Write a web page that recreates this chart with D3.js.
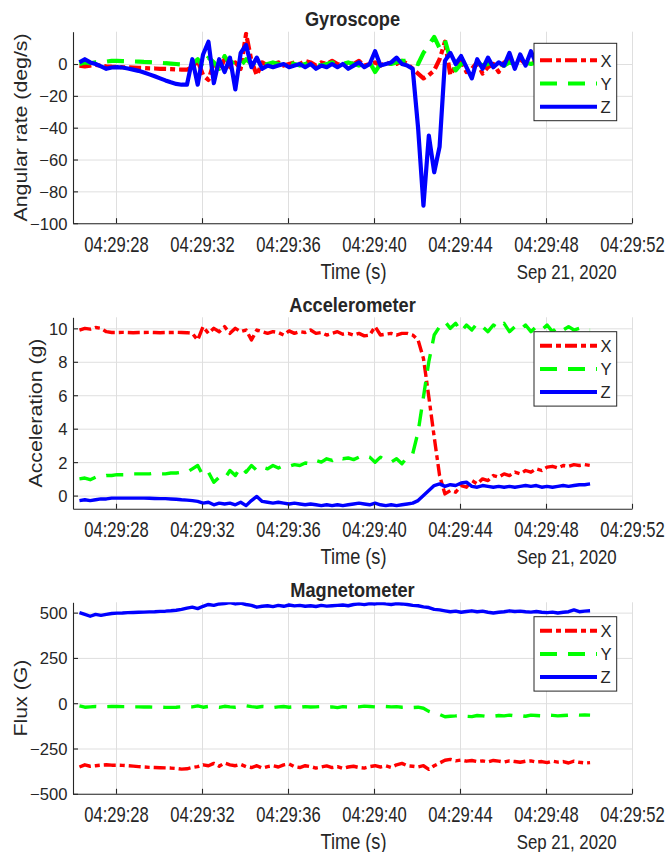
<!DOCTYPE html>
<html>
<head>
<meta charset="utf-8">
<script src="https://cdn.jsdelivr.net/npm/d3@7"></script>
<style>
body { margin: 0; background: #fff; }
svg text { font-family: "Liberation Sans", Arial, Helvetica, sans-serif; fill: #262626; }
</style>
</head>
<body>
<div id="chart"></div>
<script>
/*
    Data (seconds after 04:29:00, one sample every 0.25 s)
*/
var sampleStart = 26.3;
var sampleStep = 0.25;

// gyroscope, deg/s
var gyroX = [-1, -1.5, -1, -0.5, -1, -1.5, -1.7, -1.8, -2, -2.1, -2.2, -2.4,
    -2.5, -2.7, -2.8, -3, -3.1, -3.2, -3.4, -3.5, -3.5, -2, 2, -7,
    -10, 1, -4, 3, -2, 1, -3, 19, 2, -7, 1, -1,
    0, 1, -1, 0, 1, 0, 2, 1, -1, 1, 0, 2,
    0, -1, 1, 0, 2, -1, 0, 1, -1, 1, 0, 0,
    2, 0, -3, -6, -9, -7, -4, 3, 14, -7, -1, 2,
    -5, -3, 1, -6, -2, 0, -5, 1, 2, -1, 3, 0,
    2, 0, 1, -1, 0, 2, -1, 0, 1, 0, -1, 0];
var gyroY = [0, 1, 0.5, 1, 1, 1.5, 2, 2, 1.8, 1.7, 1.6, 1.5,
    1.3, 1.2, 1, 0.8, 0.5, 0.3, 0, -0.3, -0.5, 0, 3, -2,
    4, 1, -3, 5, 0, 2, -1, 3, 0, 1, -1, 0,
    1, 0, -1, 1, 0, -1, 0, 1, 0, -1, 0, 1,
    -1, 0, 1, 0, -1, 0, 1, -5, 0, 1, 0, 1,
    2, 2, 1, 0, 7, 12, 17, 10, 15, 3, -4, 0,
    1, 0, 1, -1, 0, 2, 0, -1, 1, 0, -2, 1,
    0, 1, -1, 0, 2, 0, -1, 1, 0, 0, 1, 0];
var gyroZ = [1, 3, 1, 0, -1.5, -3, -2.2, -2, -2.2, -2.8, -3.5, -4.3,
    -5.3, -6.5, -7.7, -9, -10.3, -11.5, -12.5, -13, -13, 3, -13, 6,
    14, -12, 3, -5, 4, -16, 7, 12, -2, 4, -3, -1,
    -2, -1, 0, -2, -1, 0, -2, 0, -3, -1, -2, 0,
    -2, 0, -3, -1, 1, -2, 0, 8, -1, 0, 1, 4,
    0, -1, -3, -40, -89, -45, -68, -52, 2, 7, 0, 5,
    -2, -9, 3, -3, 4, -2, 1, -1, 7, -3, 6, -1,
    8, 0, -2, 1, -1, 2, 0, -1, 3, 0, 1, 2];

// accelerometer, g
var accX = [9.9, 10.0, 9.95, 10.05, 10.0, 9.8, 9.75, 9.75, 9.76, 9.75, 9.74, 9.75,
    9.75, 9.76, 9.75, 9.74, 9.75, 9.75, 9.76, 9.75, 9.74, 9.7, 9.3, 10.1,
    9.7, 10.0, 9.8, 10.1, 9.7, 10.0, 9.8, 9.9, 9.3, 9.9, 9.8, 9.7,
    9.8, 9.75, 9.6, 9.85, 9.7, 9.8, 9.75, 9.9, 9.7, 9.75, 9.6, 9.7,
    9.8, 9.65, 9.7, 9.6, 9.7, 9.55, 9.6, 10.1, 9.6, 9.65, 9.7, 9.6,
    9.7, 9.7, 9.6, 9.3, 8.2, 5.9, 3.5, 1.2, 0.1, 0.3, 0.2, 0.6,
    0.5, 0.9, 0.7, 1.0, 0.9, 1.2, 1.1, 1.3, 1.2, 1.4, 1.3, 1.5,
    1.4, 1.6, 1.5, 1.7, 1.75, 1.65, 1.8, 1.75, 1.85, 1.8, 1.85, 1.8];
var accY = [1.0, 1.05, 0.95, 1.1, 1.1, 1.2, 1.2, 1.25, 1.25, 1.25, 1.3, 1.3,
    1.3, 1.3, 1.35, 1.3, 1.3, 1.35, 1.35, 1.4, 1.4, 1.6, 1.8, 1.2,
    1.4, 0.8, 1.1, 1.0, 1.5, 1.2, 1.7, 1.4, 1.8, 1.5, 1.7, 1.6,
    1.8, 1.65, 1.8, 1.75, 1.85, 1.8, 1.95, 1.9, 2.1, 2.0, 2.2, 2.1,
    2.3, 2.2, 2.25, 2.15, 2.3, 2.4, 2.3, 2.0, 2.3, 2.1, 2.0, 2.2,
    1.9, 2.3, 2.5, 3.8, 5.9, 8.0, 9.6, 10.1, 10.4, 10.0, 10.3, 9.8,
    10.2, 9.9, 10.3, 10.1, 9.8, 10.2, 10.0, 10.3, 9.8, 10.1, 9.9, 10.2,
    9.8, 10.1, 9.9, 10.2, 9.8, 10.1, 9.9, 10.1, 9.9, 10.0, 9.9, 9.9];
var accZ = [-0.3, -0.25, -0.3, -0.25, -0.2, -0.2, -0.15, -0.15, -0.15, -0.15, -0.15, -0.15,
    -0.15, -0.16, -0.17, -0.18, -0.18, -0.2, -0.22, -0.25, -0.27, -0.3, -0.35, -0.45,
    -0.4, -0.55, -0.45, -0.5, -0.45, -0.55, -0.4, -0.6, -0.3, -0.05, -0.35, -0.4,
    -0.45, -0.4, -0.45, -0.5, -0.45, -0.5, -0.55, -0.5, -0.55, -0.6, -0.55, -0.6,
    -0.55, -0.6, -0.55, -0.5, -0.45, -0.5, -0.55, -0.45, -0.55, -0.6, -0.55, -0.6,
    -0.55, -0.5, -0.45, -0.3, 0.0, 0.3, 0.6, 0.7, 0.55, 0.65, 0.6, 0.75,
    0.8, 0.55, 0.5, 0.6, 0.55, 0.5, 0.55, 0.5, 0.55, 0.5, 0.55, 0.6,
    0.55, 0.6, 0.5, 0.55, 0.5, 0.55, 0.6, 0.55, 0.6, 0.65, 0.65, 0.7];

// magnetometer, G
var magX = [-352, -340, -348, -345, -342, -340, -342, -342, -343, -345, -347, -350,
    -352, -354, -355, -356, -357, -358, -360, -364, -362, -355, -350, -340,
    -345, -332, -348, -330, -340, -345, -338, -350, -355, -345, -358, -350,
    -345, -352, -340, -335, -350, -355, -345, -350, -358, -352, -346, -355,
    -350, -360, -352, -348, -355, -358, -350, -345, -352, -346, -355, -340,
    -332, -345, -348, -352, -345, -365, -345, -330, -315, -310, -318, -314,
    -320, -316, -322, -318, -324, -316, -320, -325, -318, -322, -326, -320,
    -318, -325, -322, -328, -320, -325, -322, -330, -320, -326, -330, -328];
var magY = [-15, -22, -20, -18, -20, -19, -18, -18, -19, -19, -20, -20,
    -21, -21, -22, -22, -23, -23, -22, -20, -18, -20, -15, -22,
    -18, -20, -23, -17, -20, -22, -18, -14, -19, -22, -18, -20,
    -24, -20, -18, -22, -20, -23, -19, -21, -20, -18, -22, -20,
    -24, -19, -21, -18, -20, -16, -18, -20, -22, -18, -20, -19,
    -22, -20, -24, -22, -28, -45, -55, -62, -75, -72, -70, -66,
    -72, -74, -68, -70, -74, -72, -68, -70, -66, -70, -68, -72,
    -66, -68, -70, -65, -67, -70, -68, -66, -64, -66, -65, -66];
var magZ = [500, 490, 480, 490, 485, 490, 495, 497, 498, 500, 501, 502,
    503, 504, 505, 507, 508, 510, 513, 518, 525, 530, 522, 535,
    545, 540, 548, 550, 555, 548, 552, 545, 540, 530, 535, 538,
    533, 540, 535, 542, 537, 540, 535, 538, 534, 540, 536, 538,
    540, 542, 538, 545, 548, 544, 550, 548, 552, 548, 545, 550,
    548, 545, 540, 538, 532, 528, 518, 515, 510, 505, 508, 502,
    506, 510, 505, 508, 502, 498, 502, 505, 510, 506, 508, 505,
    503, 506, 502, 500, 503, 498, 502, 505, 515, 505, 508, 510];

var seriesNames = ["X", "Y", "Z"];
var gyroTicks = [-100, -80, -60, -40, -20, 0];
var accTicks = [0, 2, 4, 6, 8, 10];
var magTicks = [-500, -250, 0, 250, 500];
var dateLabel = "Sep 21, 2020";

/*
    Layout
*/
var W = 665, H = 852;
var plotLeft = 73, plotRight = 632, plotH = 191.5;
var colors = ["#ff0000", "#00ff00", "#0000ff"];
var dashes = ["12,4,5,4", "17,11", null];
var ink = "#262626";

var panels = [
    { title: "Gyroscope", ylabel: "Angular rate (deg/s)", series: [gyroX, gyroY, gyroZ],
      domain: [-100, 20.3], ticks: gyroTicks, top: 31.7, ylabelX: 27, lw: 4.2,
      legTop: 11.6, legFirst: 17 },
    { title: "Accelerometer", ylabel: "Acceleration (g)", series: [accX, accY, accZ],
      domain: [-0.79, 10.66], ticks: accTicks, top: 317.3, ylabelX: 41.5, lw: 3.4,
      legTop: 14.4, legFirst: 14 },
    { title: "Magnetometer", ylabel: "Flux (G)", series: [magX, magY, magZ],
      domain: [-500, 557], ticks: magTicks, top: 602.3, ylabelX: 27, lw: 3.4,
      legTop: 14.4, legFirst: 14 }
];

var base = new Date(2020, 8, 21, 4, 29, 0);
function secToDate(s) { return new Date(base.getTime() + s * 1000); }
var times = gyroX.map(function(d, i) { return secToDate(sampleStart + i * sampleStep); });

var x = d3.scaleTime()
    .domain([secToDate(26), secToDate(52)])
    .range([plotLeft, plotRight]);
var xTicks = d3.timeSecond.every(4);

var svg = d3.select("#chart").append("svg")
    .attr("width", W)
    .attr("height", H);

panels.forEach(function(p, k) {
    var bottom = p.top + plotH;
    var y = d3.scaleLinear().domain(p.domain).range([bottom, p.top]);
    var g = svg.append("g");

    // grid
    g.append("g")
        .attr("transform", "translate(0," + bottom + ")")
        .call(d3.axisBottom(x).ticks(xTicks).tickSize(-plotH).tickFormat(""))
        .call(function(s) { s.select(".domain").remove(); })
        .selectAll("line").attr("stroke", "#dfdfdf");
    g.append("g")
        .attr("transform", "translate(" + plotLeft + ",0)")
        .call(d3.axisLeft(y).tickValues(p.ticks).tickSize(-(plotRight - plotLeft)).tickFormat(""))
        .call(function(s) { s.select(".domain").remove(); })
        .selectAll("line").attr("stroke", "#dfdfdf");

    // data
    var clipId = "clip" + k;
    g.append("clipPath").attr("id", clipId)
        .append("rect")
        .attr("x", plotLeft).attr("y", p.top)
        .attr("width", plotRight - plotLeft).attr("height", plotH);

    var line = d3.line()
        .x(function(d, i) { return x(times[i]); })
        .y(function(d) { return y(d); });

    p.series.forEach(function(vals, j) {
        g.append("path")
            .attr("clip-path", "url(#" + clipId + ")")
            .attr("d", line(vals))
            .attr("fill", "none")
            .attr("stroke", colors[j])
            .attr("stroke-width", p.lw)
            .attr("stroke-linejoin", "round")
            .attr("stroke-dasharray", dashes[j]);
    });

    // axes
    var xAxis = g.append("g")
        .attr("transform", "translate(0," + bottom + ")")
        .call(d3.axisBottom(x).ticks(xTicks).tickFormat(d3.timeFormat("%H:%M:%S"))
            .tickSizeInner(-5).tickSizeOuter(0));
    xAxis.selectAll("text")
        .attr("font-size", "16.6px")
        .attr("y", 28.7 / 1.3)
        .attr("dy", null)
        .attr("transform", "scale(1,1.3)");

    var yAxis = g.append("g")
        .attr("transform", "translate(" + plotLeft + ",0)")
        .call(d3.axisLeft(y).tickValues(p.ticks).tickSizeInner(-5).tickSizeOuter(0).tickPadding(5.5));
    yAxis.selectAll("text")
        .attr("font-size", "16.6px")
        .attr("dy", "0.36em");

    [xAxis, yAxis].forEach(function(a) {
        a.selectAll("path, line").attr("stroke", ink).attr("stroke-width", 1.1);
        a.selectAll("text").attr("fill", ink).attr("font-family", null);
    });

    // legend
    var legX = 534, legW = 82.7, legRow = 23.2;
    var legY = p.top + p.legTop;
    var legG = g.append("g");
    legG.append("rect")
        .attr("x", legX).attr("y", legY)
        .attr("width", legW).attr("height", p.legFirst + 2 * legRow + 14)
        .attr("fill", "#fff").attr("stroke", ink).attr("stroke-width", 1);
    seriesNames.forEach(function(name, j) {
        var ly = legY + p.legFirst + j * legRow;
        legG.append("line")
            .attr("x1", legX + 6).attr("x2", legX + 63)
            .attr("y1", ly).attr("y2", ly)
            .attr("stroke", colors[j]).attr("stroke-width", 4)
            .attr("stroke-dasharray", dashes[j]);
        legG.append("text")
            .attr("x", legX + 66.5).attr("y", ly + 6.2)
            .attr("font-size", "16.6px")
            .text(name);
    });

    // labels
    g.append("text")
        .attr("text-anchor", "middle")
        .attr("transform", "translate(" + ((plotLeft + plotRight) / 2) + "," + (p.top - 5.7) + ")scale(1,1.15)")
        .attr("font-size", "18.2px")
        .attr("font-weight", "bold")
        .attr("fill", "#000")
        .text(p.title);

    g.append("text")
        .attr("text-anchor", "middle")
        .attr("transform", "translate(" + ((plotLeft + plotRight) / 2 + 1) + "," + (bottom + 55.3) + ")scale(1,1.2)")
        .attr("font-size", "18.2px")
        .text("Time (s)");

    g.append("text")
        .attr("text-anchor", "end")
        .attr("transform", "translate(616.7," + (bottom + 55.3) + ")scale(1,1.2)")
        .attr("font-size", "16.8px")
        .text(dateLabel);

    g.append("text")
        .attr("text-anchor", "middle")
        .attr("transform", "translate(" + p.ylabelX + "," + (p.top + plotH / 2) + ")rotate(-90)scale(1.12,1)")
        .attr("font-size", "19px")
        .text(p.ylabel);
});
</script>
</body>
</html>
